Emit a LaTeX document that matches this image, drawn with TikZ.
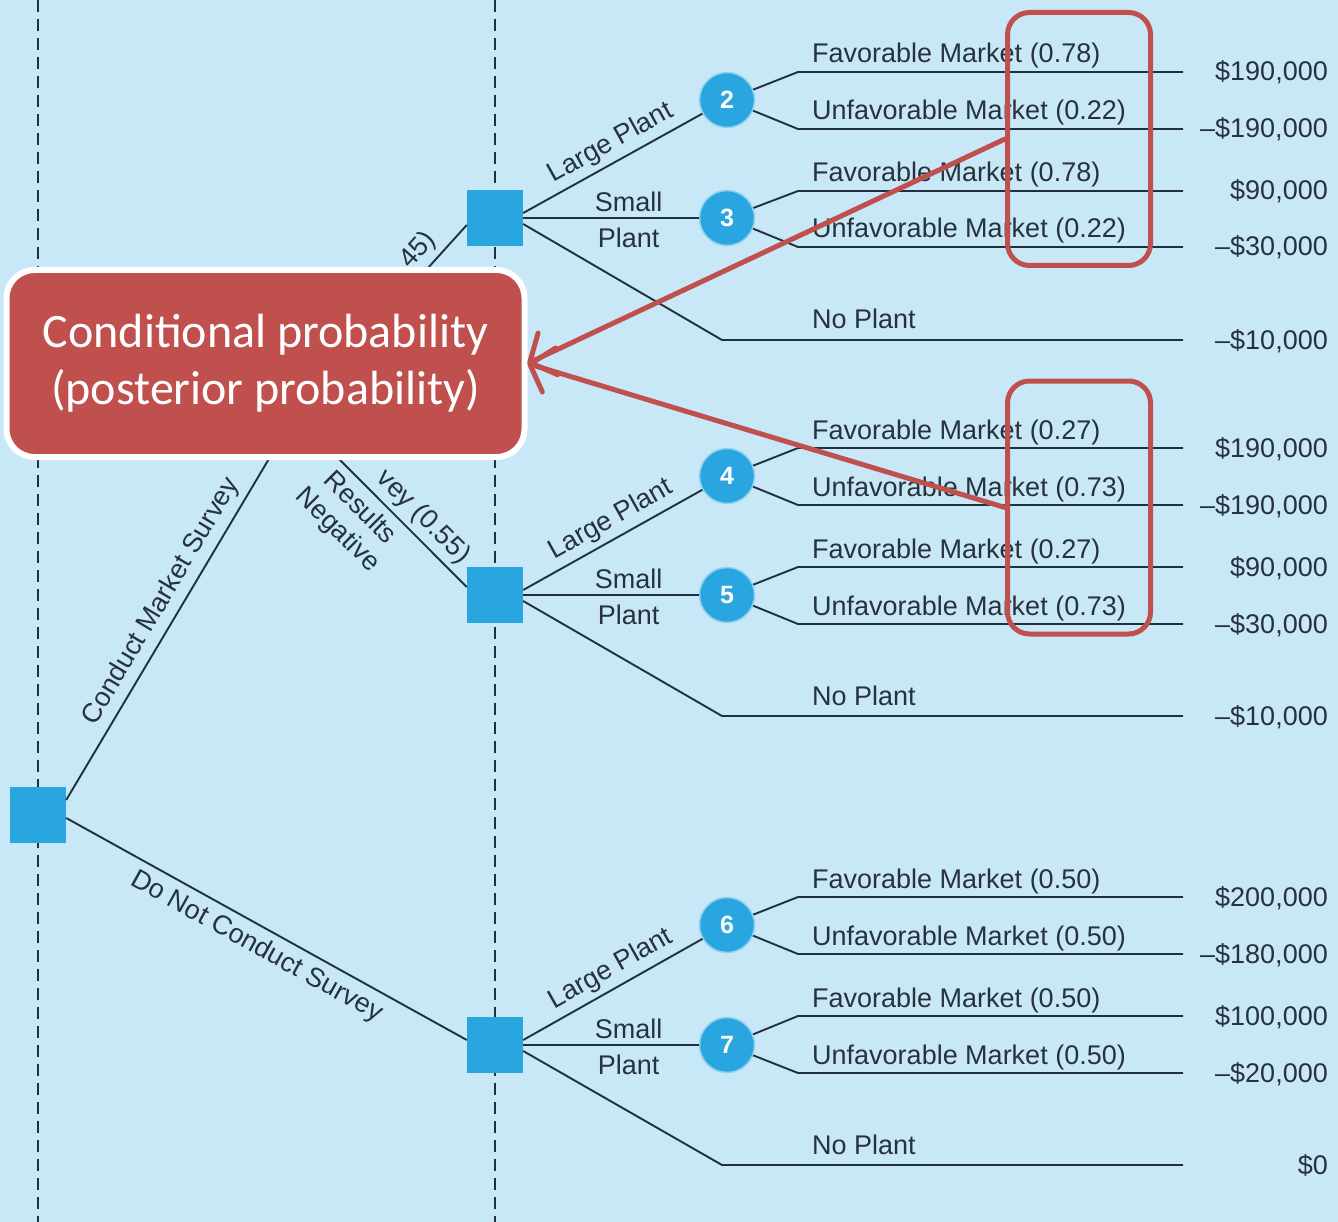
\documentclass[tikz,border=0pt]{standalone}
\usepackage{fontspec}
\setmainfont{Liberation Sans}
\newfontfamily\callfont{Carlito}
\usetikzlibrary{arrows.meta,calc,shadows}
\definecolor{bgc}{HTML}{C8E8F8}
\definecolor{sqc}{HTML}{29A6DF}
\definecolor{linec}{HTML}{22303C}
\definecolor{txtc}{HTML}{27323D}
\definecolor{redc}{HTML}{C0504D}
\definecolor{haloc}{HTML}{8FD0F0}

\newcommand\chance[8]{%
  \node[chn] (c#1) at (727,#2) {#1};
  \coordinate (c#1a) at (798,#3);
  \coordinate (c#1ae) at (1183,#3);
  \coordinate (c#1b) at (798,#4);
  \coordinate (c#1be) at (1183,#4);
  \draw[tree] (c#1) -- (c#1a) -- (c#1ae);
  \draw[tree] (c#1) -- (c#1b) -- (c#1be);
  \node[mkt] (c#1la) at (812,#3-9) {#5};
  \node[mkt] (c#1lb) at (812,#4-9) {#6};
  \node[pay] (c#1pa) at (1328,#3+9) {#7};
  \node[pay] (c#1pb) at (1328,#4+9) {#8};
}

\begin{document}
\begin{tikzpicture}[x=1pt,y=-1pt,
  tree/.style={draw=linec,line width=1.9pt},
  vdash/.style={draw=linec,line width=1.8pt,dash pattern=on 12pt off 7pt},
  lbl/.style={font=\fontsize{27}{31}\selectfont,text=txtc,inner sep=0pt},
  mkt/.style={lbl,anchor=base west},
  pay/.style={lbl,anchor=base east},
  dsq/.style={fill=sqc,minimum size=56pt,inner sep=0pt},
  chn/.style={circle,fill=sqc,draw=haloc,line width=1.5pt,minimum size=55pt,inner sep=0pt,text=white,font=\bfseries\fontsize{25}{25}\selectfont},
  callout/.style={fill=redc,draw=white,line width=6pt,rounded corners=28pt,minimum width=518pt,minimum height=187pt,text=white,align=center,font=\callfont\fontsize{48}{57}\selectfont,drop shadow={shadow xshift=1pt,shadow yshift=-2pt,opacity=0.3}},
  redbox/.style={draw=redc,line width=5pt,rounded corners=22pt,minimum width=143pt,minimum height=253pt,inner sep=0pt},
  redarr/.style={draw=redc,line width=5pt,line cap=round,-{Straight Barb[length=20pt,width=46pt,round]}}
]
\fill[bgc] (0,0) rectangle (1338,1222);
\useasboundingbox (0,0) rectangle (1338,1222);

% dashed stage lines
\coordinate (d1t) at (38,0);  \coordinate (d1b) at (38,1222);
\coordinate (d2t) at (495,0); \coordinate (d2b) at (495,1222);
\draw[vdash] (d1t) -- (d1b);
\draw[vdash] (d2t) -- (d2b);

% decision nodes
\node[dsq] (R) at (38,815) {};
\node[dsq] (S1) at (495,218) {};
\node[dsq] (S2) at (495,595) {};
\node[dsq] (S3) at (495,1045) {};
\coordinate (N1) at (295,415);

% chance nodes with outcomes
\chance{2}{100}{72}{129}{Favorable Market (0.78)}{Unfavorable Market (0.22)}{\$190,000}{\textendash\$190,000}
\chance{3}{218}{191}{247}{Favorable Market (0.78)}{Unfavorable Market (0.22)}{\$90,000}{\textendash\$30,000}
\chance{4}{476}{448}{505}{Favorable Market (0.27)}{Unfavorable Market (0.73)}{\$190,000}{\textendash\$190,000}
\chance{5}{595}{567}{624}{Favorable Market (0.27)}{Unfavorable Market (0.73)}{\$90,000}{\textendash\$30,000}
\chance{6}{925}{897}{954}{Favorable Market (0.50)}{Unfavorable Market (0.50)}{\$200,000}{\textendash\$180,000}
\chance{7}{1045}{1016}{1073}{Favorable Market (0.50)}{Unfavorable Market (0.50)}{\$100,000}{\textendash\$20,000}

% root branches
\draw[tree] ([yshift=15pt]R.east) -- node[lbl,sloped,above=6pt,pos=0.49]{Conduct Market Survey} (N1);
\draw[tree] ([yshift=-3pt]R.east) -- node[lbl,sloped,below=7pt,pos=0.5]{Do Not Conduct Survey} ([yshift=5pt]S3.west);

% survey result branches (partly hidden by the callout)
\draw[tree] (N1) -- node[lbl,sloped,above=5pt,pos=0.88,anchor=south east]{45)} ([yshift=-7pt]S1.west);
\draw[tree] (N1) -- node[lbl,sloped,above=5pt,pos=0.92,anchor=south east]{vey (0.55)}
  node[lbl,sloped,below=7pt,pos=0.46,align=center]{Results\\Negative} ([yshift=8pt]S2.west);

% plant decisions
\draw[tree] ([yshift=5pt]S1.east) -- node[lbl,sloped,above=5pt,pos=0.54]{Large Plant} (c2);
\draw[tree] (S1.east) -- node[lbl,pos=0.6,above=5pt]{Small} node[lbl,pos=0.6,below=9pt]{Plant} (c3);
\coordinate (n1c) at (722,340); \coordinate (n1e) at (1183,340);
\draw[tree] ([yshift=-6pt]S1.east) -- (n1c) -- (n1e);
\node[mkt] (n1l) at (812,329) {No Plant};
\node[pay] (n1p) at (1328,349) {\textendash\$10,000};

\draw[tree] ([yshift=5pt]S2.east) -- node[lbl,sloped,above=5pt,pos=0.54]{Large Plant} (c4);
\draw[tree] (S2.east) -- node[lbl,pos=0.6,above=5pt]{Small} node[lbl,pos=0.6,below=9pt]{Plant} (c5);
\coordinate (n2c) at (722,716); \coordinate (n2e) at (1183,716);
\draw[tree] ([yshift=-6pt]S2.east) -- (n2c) -- (n2e);
\node[mkt] (n2l) at (812,705) {No Plant};
\node[pay] (n2p) at (1328,725) {\textendash\$10,000};

\draw[tree] ([yshift=5pt]S3.east) -- node[lbl,sloped,above=5pt,pos=0.54]{Large Plant} (c6);
\draw[tree] (S3.east) -- node[lbl,pos=0.6,above=5pt]{Small} node[lbl,pos=0.6,below=9pt]{Plant} (c7);
\coordinate (n3c) at (722,1165); \coordinate (n3e) at (1183,1165);
\draw[tree] ([yshift=-6pt]S3.east) -- (n3c) -- (n3e);
\node[mkt] (n3l) at (812,1154) {No Plant};
\node[pay] (n3p) at (1328,1174) {\$0};

% annotation
\node[callout] (call) at (265.5,363.5) {Conditional probability\\(posterior probability)};
\node[redbox] (rb1) at (1079,139) {};
\node[redbox] (rb2) at (1079,507.5) {};
\draw[redarr] (rb1.west) -- (call.east);
\draw[redarr] (rb2.west) -- (call.east);
\end{tikzpicture}
\end{document}
